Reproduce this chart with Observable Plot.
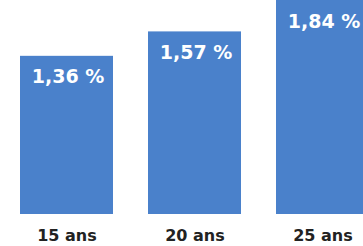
<!DOCTYPE html>
<html>
<head>
<meta charset="utf-8">
<script src="https://cdn.jsdelivr.net/npm/d3@7"></script>
<script src="https://cdn.jsdelivr.net/npm/@observablehq/plot@0.6"></script>
<style>
  html, body { margin: 0; padding: 0; background: #fff; overflow: hidden; }
  #chart svg { display: block; }
</style>
</head>
<body>
<div id="chart"></div>
<script>
const categories = ["15 ans", "20 ans", "25 ans"];
const values = [1.36, 1.57, 1.84];
const valueLabels = ["1,36 %", "1,57 %", "1,84 %"];

const data = categories.map((c, i) => ({cat: c, value: values[i], label: valueLabels[i]}));

const chart = Plot.plot({
  width: 363,
  height: 246,
  marginTop: 0,
  marginBottom: 32,
  marginLeft: 0,
  marginRight: 0,
  style: {fontFamily: "DejaVu Sans", background: "#fff"},
  x: {domain: categories, range: [19, 371], paddingInner: 0.271, paddingOuter: 0, label: null},
  y: {domain: [0, 1.84], axis: null},
  marks: [
    Plot.barY(data, {x: "cat", y: "value", fill: "#4a81cb"}),
    Plot.text(data, {x: "cat", y: "value", text: "label", fill: "#fff", fontSize: 19, fontWeight: "bold", lineAnchor: "middle", dy: 21, dx: 1}),
    Plot.axisX({tickSize: 0, tickPadding: 15, fontSize: 16, fontWeight: "bold", fill: "#222", label: null})
  ]
});
document.getElementById("chart").appendChild(chart);
</script>
</body>
</html>
